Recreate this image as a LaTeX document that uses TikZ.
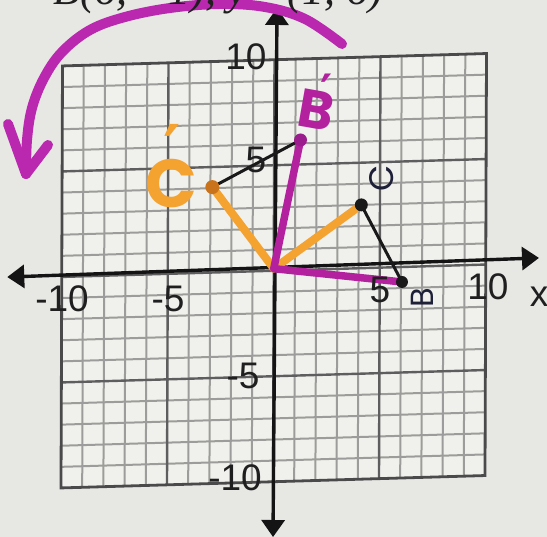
\documentclass[tikz,border=0pt]{standalone}
\usepackage{fontspec}
\setmainfont{Liberation Sans}
\newfontfamily\axisfont{Liberation Sans}
\newfontfamily\handfont{Poppins}
\newfontfamily\primefont{DejaVu Sans}
\newfontfamily\topfont{Liberation Serif}
\usetikzlibrary{arrows.meta}
\definecolor{paper}{HTML}{E7E7E4}
\definecolor{cellbg}{HTML}{F0F0ED}
\definecolor{minorgrid}{HTML}{9C9C9A}
\definecolor{majorgrid}{HTML}{5E5E5E}
\definecolor{bordergrid}{HTML}{4A4A4A}
\definecolor{orangeink}{HTML}{F4A230}
\definecolor{orangedot}{HTML}{C9741C}
\definecolor{magentaink}{HTML}{B3219F}
\definecolor{magentadot}{HTML}{9B1C8C}
\definecolor{arcink}{HTML}{B928AE}
\definecolor{navyink}{HTML}{1E2038}
\tikzset{
  minorline/.style={draw=minorgrid, line width=2pt},
  majorline/.style={draw=majorgrid, line width=2.4pt},
  borderline/.style={draw=bordergrid, line width=2.8pt, line join=miter},
  axisline/.style={draw=black!92, line width=3.4pt,
    {Triangle[length=17pt,width=23pt]}-{Triangle[length=17pt,width=23pt]}},
  orangeseg/.style={draw=orangeink, line width=8pt, line cap=round},
  magseg/.style={draw=magentaink, line width=7.5pt, line cap=round},
  blackseg/.style={draw=black!90, line width=3pt, line cap=round},
  ptdot/.style={circle, inner sep=0pt, minimum size=#1},
  ticklbl/.style={font=\axisfont\fontsize{37}{40}\selectfont, text=black!88, inner sep=0pt},
  handlbl/.style={font=\handfont\bfseries\fontsize{#1}{#1}\selectfont, inner sep=0pt},
  primelbl/.style={font=\primefont\bfseries\fontsize{#1}{#1}\selectfont, inner sep=0pt},
  thinhand/.style={font=\handfont\fontsize{#1}{#1}\selectfont, inner sep=0pt, text=navyink},
  arcstroke/.style={draw=arcink, line width=10pt, line cap=round, line join=round},
}
\begin{document}
\begin{tikzpicture}[x=1pt,y=1pt]
\useasboundingbox (0,0) rectangle (547,537);
\fill[paper] (0,0) rectangle (547,537);
% ---- grid in graph units (photo slightly skewed)
\begin{scope}[shift={(273.75pt,266.25pt)}, x={(21.2pt,0.62pt)}, y={(0.075pt,21.1pt)}]
  \fill[cellbg] (-10,-10) -- (10,-10) -- (10,10) -- (-10,10) -- cycle;
  \foreach \i in {-9,-8,-7,-6,-4,-3,-2,-1,1,2,3,4,6,7,8,9} {
    \draw[minorline] (\i,-10) -- (\i,10);
    \draw[minorline] (-10,\i) -- (10,\i);
  }
  \foreach \i in {-5,0,5} {
    \draw[majorline] (\i,-10) -- (\i,10);
    \draw[majorline] (-10,\i) -- (10,\i);
  }
  \draw[borderline] (-10,-10) -- (10,-10) -- (10,10) -- (-10,10) -- cycle;
  % axes
  \coordinate (xl) at (-12.57,0.07);
  \coordinate (xr) at (12.51,0.24);
  \coordinate (yb) at (0.01,-12.62);
  \coordinate (yt) at (0.11,12.45);
  \draw[axisline] (xl) -- (xr);
  \draw[axisline] (yb) -- (yt);
  % points
  \coordinate (O) at (0,0.1);
  \coordinate (C) at (4.12,3.0);
  \coordinate (B) at (6.05,-0.71);
  \coordinate (Cp) at (-2.91,4.05);
  \coordinate (Bp) at (1.24,6.16);
  \draw[orangeseg] (O) -- (C);
  \draw[orangeseg] (O) -- (Cp);
  \draw[magseg] (O) -- (Bp);
  \draw[magseg] (O) -- (B);
  \draw[blackseg] (C) -- (B);
  \draw[blackseg] (Cp) -- (Bp);
  \node[ptdot=13pt, fill=black!90] (Cdot) at (C) {};
  \node[ptdot=12pt, fill=black!90] (Bdot) at (B) {};
  \node[ptdot=14pt, fill=orangedot] (Cpdot) at (Cp) {};
  \node[ptdot=13pt, fill=magentadot] (Bpdot) at (Bp) {};
\end{scope}
% ---- texts and freehand marks in photo pixels
\begin{scope}[shift={(0pt,537pt)}, x=1pt, y=-1pt]
  \node[ticklbl] (ylab10) at (246,57) {10};
  \node[ticklbl] (ylab5) at (256,160) {5};
  \node[ticklbl] (ylabm5) at (243,376) {-5};
  \node[ticklbl] (ylabm10) at (235,478) {-10};
  \node[ticklbl] (xlabm10) at (62,299) {-10};
  \node[ticklbl] (xlabm5) at (168,299) {-5};
  \node[ticklbl] (xlab5) at (380,290) {5};
  \node[ticklbl] (xlab10) at (488,287) {10};
  \node[ticklbl] (xname) at (539,297) {x};
  % hand labels
  \node[handlbl=68, text=orangeink] (Cplbl) at (171,184) {C};
  \node[primelbl=66, text=orangeink, anchor=north] (Cpprime) at (172,124) {′};
  \node[handlbl=54, text=magentaink, rotate=-10] (Bplbl) at (316,110) {B};
  \node[primelbl=46, text=magentaink, anchor=north] (Bpprime) at (327,74) {′};
  \node[thinhand=34, rotate=90] (Clbl) at (382,178) {C};
  \node[thinhand=32, rotate=90] (Blbl) at (422,298) {B};
  % magenta rotation arrow
  \coordinate (arcstart) at (342,44);
  \coordinate (arctip) at (26,174);
  \draw[arcstroke] plot[smooth, tension=0.6] coordinates {(342,44) (305,19) (265,7) (220,4) (170,8) (125,17) (90,30) (62,52) (44,78) (32,108) (27,140) (26,174)};
  \draw[arcstroke] (8,124) -- (arctip) -- (48,145);
  % cut-off heading line
  \node[anchor=base west, inner sep=0pt, text=black!88,
        font=\topfont\itshape\fontsize{44}{48}\selectfont] (heading) at (53,5)
        {B(6, −1), y\hspace{30pt} (1, 6)};
\end{scope}
\end{tikzpicture}
\end{document}
